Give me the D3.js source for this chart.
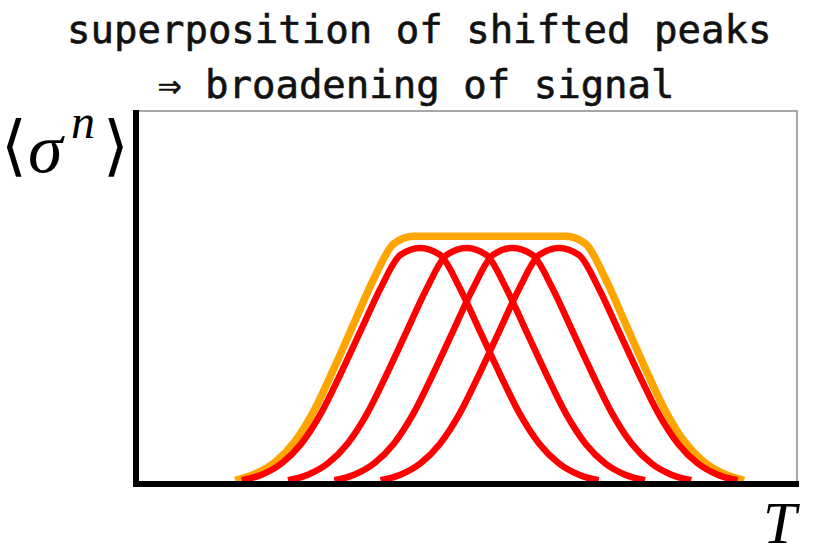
<!DOCTYPE html>
<html>
<head>
<meta charset="utf-8">
<script src="https://cdn.jsdelivr.net/npm/d3@7"></script>
<style>
  body { margin: 0; background: #fff; }
</style>
</head>
<body>
<svg id="chart"></svg>
<script>
// Chart values
const titleLines = ["superposition of shifted peaks", "\u21D2 broadening of signal"];
const yLabelParts = ["\u27E8", "\u03C3", "n", "\u27E9"];
const xLabel = "T";

// red peaks: same bell shape, shifted along T
const redPeaks = [43, 50, 57, 64];
const profileOffsets = [-27, -24, -21, -18, -15, -12, -9, -6, -3, 0, 3, 6, 9, 12, 15, 18, 21, 24, 27];
const profileValues = [0.010, 0.025, 0.055, 0.108, 0.190, 0.297, 0.411, 0.525, 0.614, 0.633,
  0.614, 0.525, 0.411, 0.297, 0.190, 0.108, 0.055, 0.025, 0.010];

// orange envelope (flat topped)
const orangeT = [15, 18, 21, 24, 27, 30, 33, 36, 39, 42, 47, 53.5, 60, 65, 68, 71, 74, 77, 80, 83, 86, 89, 92];
const orangeV = [0.010, 0.027, 0.058, 0.113, 0.199, 0.312, 0.432, 0.551, 0.644, 0.664, 0.664, 0.664,
  0.664, 0.664, 0.644, 0.551, 0.432, 0.312, 0.199, 0.113, 0.058, 0.027, 0.010];

// Set up the chart dimensions
const width = 830;
const height = 557;
const margin = { top: 111, right: 33, bottom: 73, left: 136 };

const svg = d3.select("#chart")
  .attr("width", width)
  .attr("height", height);

svg.append("rect")
  .attr("width", width)
  .attr("height", height)
  .attr("fill", "#fff");

// Create the scales
const xScale = d3.scaleLinear()
  .domain([0, 100])
  .range([margin.left, width - margin.right]);

const yScale = d3.scaleLinear()
  .domain([0, 1])
  .range([height - margin.bottom, margin.top]);

const line = d3.line()
  .x(d => xScale(d[0]))
  .y(d => yScale(d[1]))
  .curve(d3.curveMonotoneX);

// thin frame on top and right
svg.append("path")
  .attr("d", `M${xScale(0)},${yScale(1)}H${xScale(100)}V${yScale(0)}`)
  .attr("fill", "none")
  .attr("stroke", "#8a8a8a")
  .attr("stroke-width", 1.5);

// orange envelope first, red peaks on top
svg.append("path")
  .datum(orangeT.map((t, i) => [t, orangeV[i]]))
  .attr("d", line)
  .attr("fill", "none")
  .attr("stroke", "#ffa500")
  .attr("stroke-width", 7.5)
  .attr("stroke-linejoin", "round");

svg.selectAll(".peak")
  .data(redPeaks)
  .enter()
  .append("path")
  .attr("class", "peak")
  .attr("d", p => line(profileOffsets.map((o, i) => [p + o, profileValues[i]])))
  .attr("fill", "none")
  .attr("stroke", "#ff0000")
  .attr("stroke-width", 6.5)
  .attr("stroke-linejoin", "round");

// thick axes, no ticks
const xAxis = d3.axisBottom(xScale).tickValues([]).tickSizeOuter(0);
const yAxis = d3.axisLeft(yScale).tickValues([]).tickSizeOuter(0);

svg.append("g")
  .attr("class", "x-axis")
  .attr("transform", `translate(0, ${yScale(0)})`)
  .call(xAxis)
  .select(".domain")
  .attr("d", `M${xScale(0) - 3},0H${xScale(100) + 2}`)
  .attr("stroke", "#000")
  .attr("stroke-width", 6);

svg.append("g")
  .attr("class", "y-axis")
  .attr("transform", `translate(${xScale(0)}, 0)`)
  .call(yAxis)
  .select(".domain")
  .attr("d", `M0,${yScale(1) - 1}V${yScale(0) + 3}`)
  .attr("stroke", "#000")
  .attr("stroke-width", 6);

// Title, two lines
svg.selectAll(".title")
  .data(titleLines)
  .enter()
  .append("text")
  .attr("class", "title")
  .attr("x", (d, i) => i === 0 ? 67 : 158)
  .attr("y", (d, i) => i === 0 ? 43 : 98)
  .attr("font-family", "'DejaVu Sans Mono', monospace")
  .attr("font-size", 39)
  .attr("fill", "#111")
  .attr("stroke", "#111")
  .attr("stroke-width", 0.6)
  .text(d => d);

// y label  <sigma^n>
const yl = svg.append("g").attr("class", "y-label")
  .attr("font-family", "'Liberation Serif', 'DejaVu Serif', serif");

yl.append("text")
  .attr("x", 1).attr("y", 168)
  .attr("font-family", "'DejaVu Serif', serif")
  .attr("font-size", 66)
  .text(yLabelParts[0]);

yl.append("text")
  .attr("x", 28).attr("y", 172)
  .attr("font-style", "italic")
  .attr("font-size", 70)
  .text(yLabelParts[1]);

yl.append("text")
  .attr("x", 71).attr("y", 138)
  .attr("font-style", "italic")
  .attr("font-size", 48)
  .text(yLabelParts[2]);

yl.append("text")
  .attr("x", 103).attr("y", 168)
  .attr("font-family", "'DejaVu Serif', serif")
  .attr("font-size", 66)
  .text(yLabelParts[3]);

// x label
svg.append("text")
  .attr("class", "x-label")
  .attr("x", 763)
  .attr("y", 543)
  .attr("font-family", "'Liberation Serif', serif")
  .attr("font-style", "italic")
  .attr("font-size", 60)
  .text(xLabel);
</script>
</body>
</html>
